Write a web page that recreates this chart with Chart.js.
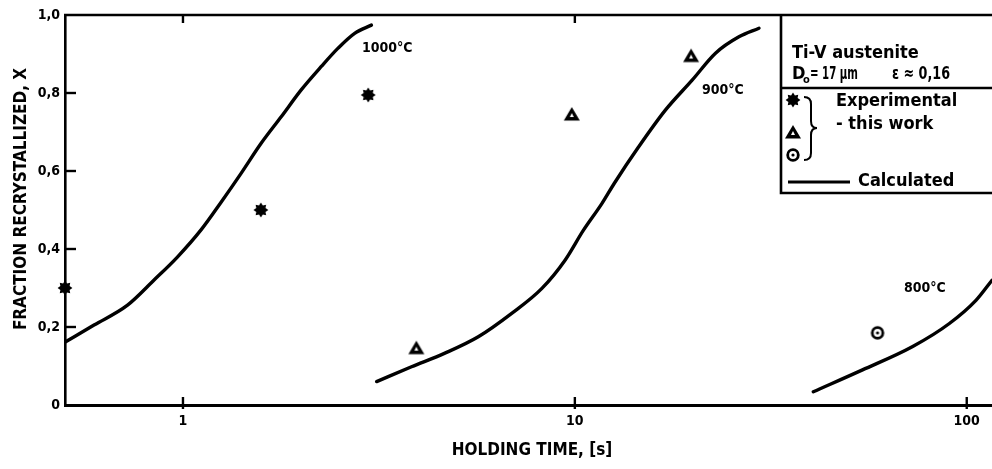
<!DOCTYPE html>
<html>
<head>
<meta charset="utf-8">
<script src="https://cdn.jsdelivr.net/npm/chart.js@4.4.1/dist/chart.umd.min.js"></script>
<style>
  html, body { margin: 0; padding: 0; background: #fff; }
  #wrap { width: 992px; height: 469px; }
</style>
</head>
<body>
<div id="wrap"><canvas id="chart" width="992" height="469"></canvas></div>
<script>
// valeurs
var t1000 = [0.502, 0.593, 0.722, 0.845, 0.969, 1.112, 1.251, 1.407, 1.583, 1.781, 2.003, 2.254, 2.488, 2.742, 3.026];
var x1000 = [0.162, 0.205, 0.256, 0.321, 0.380, 0.449, 0.52, 0.594, 0.671, 0.739, 0.808, 0.868, 0.915, 0.953, 0.974];

var t900 = [3.12, 3.83, 4.66, 5.67, 6.90, 8.24, 9.45, 10.5, 11.73, 12.6, 14.55, 17.02, 19.92, 22.85, 26.22, 29.5];
var x900 = [0.060, 0.098, 0.133, 0.175, 0.235, 0.299, 0.372, 0.447, 0.517, 0.568, 0.662, 0.756, 0.833, 0.902, 0.944, 0.966];

var t800 = [40.6, 54.2, 72.8, 90.3, 105.7, 116];
var x800 = [0.034, 0.09, 0.15, 0.209, 0.269, 0.32];

var tExp1000 = [0.5, 1.58, 2.97];
var xExp1000 = [0.30, 0.50, 0.795];
var tExp900 = [3.94, 9.82, 19.8];
var xExp900 = [0.147, 0.746, 0.896];
var tExp800 = [59.2];
var xExp800 = [0.185];

var xTicks = [1, 10, 100];
var yTickLabels = ['0', '0,2', '0,4', '0,6', '0,8', '1,0'];

var FONT = "'DejaVu Sans Condensed', 'Liberation Sans Narrow', sans-serif";

function pts(xs, ys) {
  return xs.map(function (v, i) { return { x: v, y: ys[i] }; });
}

// symboles dessinés à la main
function makeStar() {
  var c = document.createElement('canvas');
  c.width = 16; c.height = 16;
  var g = c.getContext('2d');
  g.fillStyle = '#000';
  g.beginPath();
  for (var i = 0; i < 16; i++) {
    var a = i * Math.PI / 8;
    var r = (i % 2 === 0) ? 7.4 : 5;
    g.lineTo(8 + r * Math.cos(a), 8 + r * Math.sin(a));
  }
  g.closePath();
  g.fill();
  return c;
}
function makeTri() {
  var c = document.createElement('canvas');
  c.width = 18; c.height = 18;
  var g = c.getContext('2d');
  g.fillStyle = '#000';
  g.beginPath();
  g.moveTo(9, 2); g.lineTo(17, 15.5); g.lineTo(1, 15.5); g.closePath();
  g.fill();
  g.fillStyle = '#fff';
  g.beginPath();
  g.moveTo(9, 8); g.lineTo(11, 12); g.lineTo(7, 12); g.closePath();
  g.fill();
  return c;
}
function makeRing() {
  var c = document.createElement('canvas');
  c.width = 16; c.height = 16;
  var g = c.getContext('2d');
  g.strokeStyle = '#000';
  g.lineWidth = 2.8;
  g.beginPath(); g.arc(8, 8, 5.3, 0, Math.PI * 2); g.stroke();
  g.fillStyle = '#000';
  g.beginPath(); g.arc(8, 8, 1.6, 0, Math.PI * 2); g.fill();
  return c;
}
var starImg = makeStar(), triImg = makeTri(), ringImg = makeRing();

function curve(data) {
  return {
    type: 'line', data: data, borderColor: '#000', borderWidth: 3.4,
    borderCapStyle: 'round', pointRadius: 0, fill: false,
    cubicInterpolationMode: 'monotone', clip: false
  };
}
function marks(data, img) {
  return {
    type: 'scatter', data: data, pointStyle: img, pointRadius: 8,
    borderColor: '#000', backgroundColor: '#000', clip: false
  };
}

// texte comprimé à une largeur donnée
function fitText(ctx, s, x, y, w) {
  var m = ctx.measureText(s).width;
  ctx.save();
  ctx.translate(x, y);
  ctx.scale(Math.min(1, w / m), 1);
  ctx.fillText(s, 0, 0);
  ctx.restore();
}

var decor = {
  id: 'decor',
  afterDraw: function (chart) {
    var ctx = chart.ctx, a = chart.chartArea;
    var xs = chart.scales.x, ys = chart.scales.y;
    ctx.save();
    ctx.strokeStyle = '#000';
    ctx.fillStyle = '#000';

    // cadre supérieur
    ctx.lineWidth = 2.6;
    ctx.beginPath(); ctx.moveTo(a.left - 1, a.top); ctx.lineTo(992, a.top); ctx.stroke();

    // graduations intérieures
    ctx.lineWidth = 2.4;
    [0.2, 0.4, 0.6, 0.8].forEach(function (v) {
      var y = ys.getPixelForValue(v);
      ctx.beginPath(); ctx.moveTo(a.left, y); ctx.lineTo(a.left + 11, y); ctx.stroke();
    });
    xTicks.forEach(function (v) {
      var x = xs.getPixelForValue(v);
      ctx.beginPath(); ctx.moveTo(x, a.bottom + 4); ctx.lineTo(x, a.bottom - 8); ctx.stroke();
      if (v < 100) {
        ctx.beginPath(); ctx.moveTo(x, a.top); ctx.lineTo(x, a.top + 8); ctx.stroke();
      }
    });

    // titres des axes
    ctx.font = 'bold 17px ' + FONT;
    ctx.textAlign = 'center';
    ctx.textBaseline = 'middle';
    ctx.fillText('HOLDING TIME, [s]', 532, 451);
    ctx.save();
    ctx.translate(22, 199);
    ctx.rotate(-Math.PI / 2);
    ctx.fillText('FRACTION RECRYSTALLIZED, X', 0, 0);
    ctx.restore();

    // étiquettes des courbes
    ctx.font = 'bold 14px ' + FONT;
    ctx.textAlign = 'left';
    ctx.fillText('1000°C', 362, 48);
    ctx.fillText('900°C', 702, 90);
    ctx.fillText('800°C', 904, 288);

    // cartouche
    var bx = 781;
    ctx.lineWidth = 2.6;
    ctx.beginPath();
    ctx.moveTo(bx, a.top); ctx.lineTo(bx, 193); ctx.lineTo(992, 193);
    ctx.moveTo(bx, 88); ctx.lineTo(992, 88);
    ctx.stroke();

    ctx.font = 'bold 18px ' + FONT;
    ctx.fillText('Ti-V austenite', 792, 53);
    ctx.fillText('D', 792, 74);
    fitText(ctx, '= 17 µm', 810, 74, 48);
    fitText(ctx, 'ε ≈ 0,16', 892, 74, 58);
    ctx.font = 'bold 11px ' + FONT;
    ctx.fillText('o', 803, 80);
    ctx.font = 'bold 18px ' + FONT;

    ctx.drawImage(starImg, 793 - 8, 100 - 8);
    ctx.drawImage(triImg, 793 - 9, 133 - 10);
    ctx.drawImage(ringImg, 793 - 8, 155 - 8);

    // accolade
    ctx.lineWidth = 2;
    ctx.beginPath();
    ctx.moveTo(804, 97);
    ctx.quadraticCurveTo(811, 97, 811, 104);
    ctx.lineTo(811, 121);
    ctx.quadraticCurveTo(811, 128, 817, 128);
    ctx.quadraticCurveTo(811, 128, 811, 135);
    ctx.lineTo(811, 153);
    ctx.quadraticCurveTo(811, 160, 804, 160);
    ctx.stroke();

    ctx.fillText('Experimental', 836, 101);
    ctx.fillText('- this work', 836, 124);

    ctx.lineWidth = 3.2;
    ctx.beginPath(); ctx.moveTo(788, 182); ctx.lineTo(850, 182); ctx.stroke();
    ctx.fillText('Calculated', 858, 181);

    ctx.restore();
  }
};

var ctx = document.getElementById('chart').getContext('2d');
var myChart = new Chart(ctx, {
  data: {
    datasets: [
      curve(pts(t1000, x1000)),
      curve(pts(t900, x900)),
      curve(pts(t800, x800)),
      marks(pts(tExp1000, xExp1000), starImg),
      marks(pts(tExp900, xExp900), triImg),
      marks(pts(tExp800, xExp800), ringImg)
    ]
  },
  options: {
    responsive: false,
    animation: false,
    events: [],
    layout: { autoPadding: false, padding: { top: 15, left: 0, right: 0, bottom: 0 } },
    plugins: { legend: { display: false }, tooltip: { enabled: false } },
    scales: {
      x: {
        type: 'logarithmic', min: 0.5, max: 116,
        grid: { display: false, drawTicks: false },
        border: { display: true, color: '#000', width: 3 },
        afterBuildTicks: function (s) { s.ticks = xTicks.map(function (v) { return { value: v }; }); },
        afterFit: function (s) { s.height = 64; s.paddingRight = 0; },
        ticks: {
          color: '#000', padding: 8, maxRotation: 0, autoSkip: false,
          font: { family: FONT, size: 14, weight: 'bold' },
          callback: function (v) { return String(v); }
        }
      },
      y: {
        min: 0, max: 1,
        grid: { display: false, drawTicks: false },
        border: { display: true, color: '#000', width: 2.6 },
        afterFit: function (s) { s.width = 65; },
        ticks: {
          stepSize: 0.2, color: '#000', padding: 5,
          font: { family: FONT, size: 14, weight: 'bold' },
          callback: function (v, i) { return yTickLabels[i]; }
        }
      }
    }
  },
  plugins: [decor]
});
</script>
</body>
</html>
